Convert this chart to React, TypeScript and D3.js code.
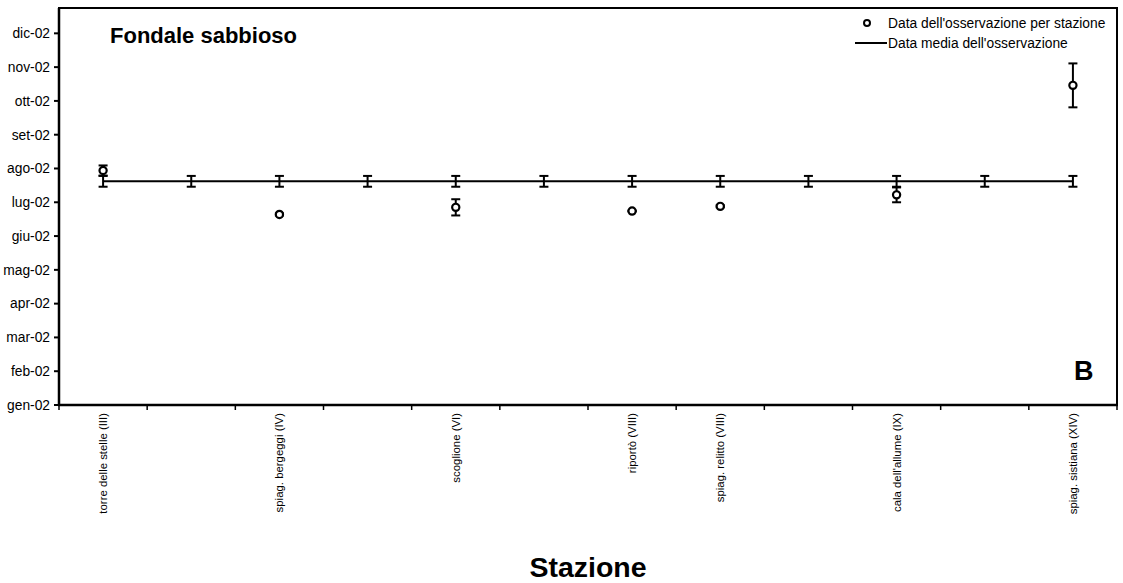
import React from "react";
import * as d3 from "d3";

const months = ["gen-02", "feb-02", "mar-02", "apr-02", "mag-02", "giu-02", "lug-02", "ago-02", "set-02", "ott-02", "nov-02", "dic-02"];
const stations = [
  "torre delle stelle (III)", "", "spiag. bergeggi (IV)", "", "scoglione (VI)", "",
  "riportò (VIII)", "spiag. relitto (VIII)", "", "cala dell'allume (IX)", "", "spiag. sistiana (XIV)",
];
// observation date (months since 1 Jan 2002) per station
const obsValues: (number | null)[] = [6.94, null, 5.64, null, 5.85, null, 5.74, 5.88, null, 6.22, null, 9.46];
const obsErrors: (number | null)[] = [0.15, null, 0.03, null, 0.24, null, 0.01, 0.03, null, 0.22, null, 0.65];
const meanValue = 6.62;
const meanError = 0.16;

const W = 1123, H = 583;
const L = 59, R = 1117, T = 8, B = 405;
const FONT = "'Liberation Sans', Arial, sans-serif";

export default function App() {
  const x = d3.scaleBand<number>().domain(d3.range(stations.length)).range([L, R]).padding(0);
  const y = d3.scaleLinear().domain([0, 11.75]).range([B, T]);
  const cx = (i: number) => (x(i) as number) + x.bandwidth() / 2;
  const cap = 4.5;

  const meanLine = d3.line<number>().x((i) => cx(i)).y(() => y(meanValue));
  const boundaries = d3.range(stations.length + 1).map((i) => L + i * x.bandwidth());

  const errBar = (xc: number, v: number, e: number, key: string) => (
    <g key={key} stroke="#000" strokeWidth={2}>
      <line x1={xc} x2={xc} y1={y(v - e)} y2={y(v + e)} />
      <line x1={xc - cap} x2={xc + cap} y1={y(v - e)} y2={y(v - e)} />
      <line x1={xc - cap} x2={xc + cap} y1={y(v + e)} y2={y(v + e)} />
    </g>
  );

  return (
    <svg width={W} height={H} style={{ position: "absolute", left: 0, top: 0, background: "#fff" }} fontFamily={FONT}>
      <rect x={0} y={0} width={W} height={H} fill="#fff" />
      {/* frame */}
      <rect x={L} y={T} width={R - L} height={B - T} fill="none" stroke="#000" strokeWidth={2} />
      <line x1={L} x2={L} y1={T} y2={B + 1} stroke="#000" strokeWidth={2.5} />
      <line x1={L - 1} x2={R + 1} y1={B} y2={B} stroke="#000" strokeWidth={2.5} />

      {/* y ticks */}
      {months.map((m, i) => (
        <g key={m}>
          <line x1={L - 5} x2={L} y1={y(i)} y2={y(i)} stroke="#000" strokeWidth={2} />
          <text x={50} y={y(i)} dy="0.35em" textAnchor="end" fontSize={13.8} fill="#000">{m}</text>
        </g>
      ))}

      {/* x ticks */}
      {boundaries.map((bx, i) => (
        <line key={"xt" + i} x1={bx} x2={bx} y1={B} y2={B + 5} stroke="#000" strokeWidth={1.5} />
      ))}
      {stations.map((s, i) =>
        s ? (
          <text key={"xl" + i} transform={`translate(${cx(i)},${B + 8}) rotate(-90)`} dy="0.35em"
            textAnchor="end" fontSize={11.4} fill="#000">{s}</text>
        ) : null
      )}

      {/* mean line with error bars */}
      <path d={meanLine(d3.range(stations.length)) as string} fill="none" stroke="#000" strokeWidth={2} />
      {stations.map((_, i) => errBar(cx(i), meanValue, meanError, "me" + i))}

      {/* observations */}
      {obsValues.map((v, i) =>
        v == null ? null : (
          <g key={"ob" + i}>
            {errBar(cx(i), v, obsErrors[i] as number, "oe" + i)}
            <circle cx={cx(i)} cy={y(v)} r={3.6} fill="#fff" stroke="#000" strokeWidth={2.2} />
          </g>
        )
      )}

      {/* titles */}
      <text x={110} y={43} fontSize={22} fontWeight="bold" fill="#000">Fondale sabbioso</text>
      <text x={1074} y={380} fontSize={27} fontWeight="bold" fill="#000">B</text>
      <text x={588} y={577} fontSize={28.5} fontWeight="bold" textAnchor="middle" fill="#000">Stazione</text>

      {/* legend */}
      <circle cx={867} cy={23} r={3} fill="#fff" stroke="#000" strokeWidth={2} />
      <text x={888} y={23} dy="0.35em" fontSize={13.8} fill="#000">Data dell'osservazione per stazione</text>
      <line x1={855} x2={887} y1={43} y2={43} stroke="#000" strokeWidth={2} />
      <text x={888} y={43} dy="0.35em" fontSize={13.8} fill="#000">Data media dell'osservazione</text>
    </svg>
  );
}
